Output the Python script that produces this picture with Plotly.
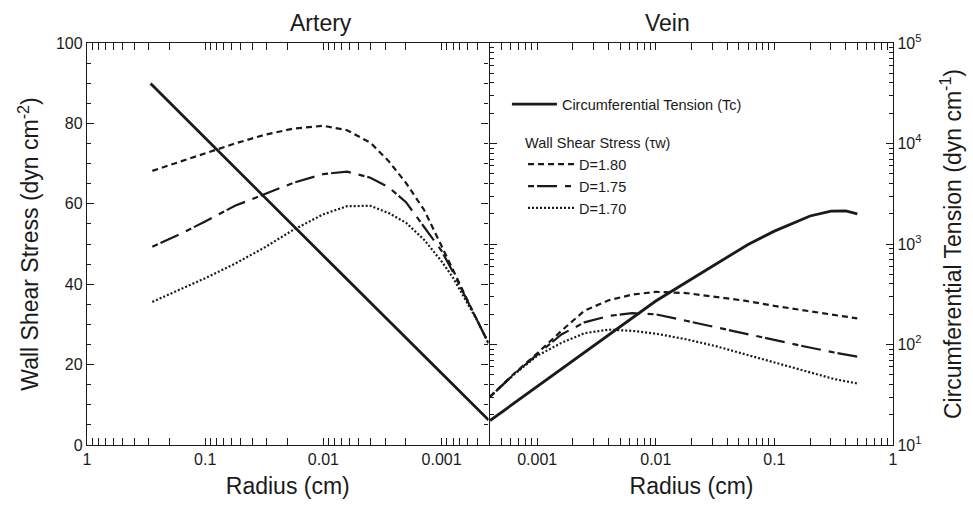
import plotly.graph_objects as go

# ---------------- data ----------------
# Artery: circumferential tension (Tc), dyn/cm
artery_tc_r = [0.29, 0.1, 0.01, 0.001, 0.0004]
artery_tc = [39500, 11300, 764, 51.8, 17.7]

# Artery: wall shear stress (dyn/cm^2)
artery_r = [0.28, 0.16, 0.1, 0.056, 0.032, 0.018, 0.01, 0.0063, 0.004, 0.0028,
            0.002, 0.0014, 0.001, 0.0008, 0.00063, 0.0005, 0.0004]
artery_d180 = [68.2, 70.6, 72.7, 75.0, 77.1, 78.7, 79.4, 78.3, 75.2, 70.6,
               65.2, 58.4, 49.5, 43.4, 37.0, 31.0, 25.3]
artery_d175 = [49.3, 52.6, 55.6, 59.5, 62.3, 65.2, 67.4, 68.0, 66.5, 64.1,
               60.4, 54.3, 48.3, 43.0, 36.8, 31.0, 25.3]
artery_d170 = [35.6, 38.8, 41.5, 45.1, 49.0, 53.5, 57.4, 59.4, 59.5, 57.7,
               55.3, 51.0, 45.7, 41.6, 36.3, 31.0, 25.3]

# Vein: circumferential tension (Tc)
vein_tc_r = [0.0004, 0.001, 0.003, 0.01, 0.03, 0.06, 0.1, 0.2, 0.3, 0.4, 0.5]
vein_tc = [17.5, 38.2, 97, 271, 600, 990, 1343, 1900, 2120, 2130, 1995]

# Vein: wall shear stress
vein_r = [0.0004, 0.00063, 0.001, 0.0016, 0.0025, 0.004, 0.0063, 0.01, 0.018,
          0.032, 0.056, 0.1, 0.18, 0.32, 0.5]
vein_d180 = [12.0, 17.6, 22.8, 28.4, 33.4, 36.0, 37.4, 38.1, 37.8, 36.9, 35.9,
             34.6, 33.5, 32.4, 31.5]
vein_d175 = [12.0, 17.5, 22.5, 27.5, 30.5, 32.1, 32.8, 32.5, 30.9, 29.3, 27.6,
             26.0, 24.5, 23.0, 22.0]
vein_d170 = [12.0, 17.4, 22.2, 25.4, 27.8, 28.7, 28.4, 27.7, 26.3, 24.6, 22.6,
             20.6, 18.4, 16.4, 15.3]

x_tickvals = [1, 0.1, 0.01, 0.001]
x_ticktext = ["1", "0.1", "0.01", "0.001"]
tc_tickvals = [10, 100, 1000, 10000, 100000]
tc_ticktext = ["10<sup>1</sup>", "10<sup>2</sup>", "10<sup>3</sup>", "10<sup>4</sup>", "10<sup>5</sup>"]
wss_tickvals = [0, 20, 40, 60, 80, 100]

# ---------------- styling ----------------
INK = "#1a1a1a"
FONT = "Liberation Sans, Arial, sans-serif"
styles = {
    "D=1.80": dict(dash="6px,4px", width=2.2),
    "D=1.75": dict(dash="6px,3px,20px,8px", width=2.2),
    "D=1.70": dict(dash="2px,2px", width=2.2),
}

minor_log_x = [k * 10.0 ** e for e in range(-4, 0) for k in range(2, 10)]
minor_log_y = [k * 10.0 ** e for e in range(1, 5) for k in range(2, 10)]

fig = go.Figure()

# Artery
fig.add_trace(go.Scatter(x=artery_tc_r, y=artery_tc, xaxis="x", yaxis="y4", mode="lines",
                         line=dict(color=INK, width=2.8), name="Circumferential Tension (Tc)",
                         legend="legend", showlegend=True))
for name, vals in [("D=1.80", artery_d180), ("D=1.75", artery_d175), ("D=1.70", artery_d170)]:
    fig.add_trace(go.Scatter(x=artery_r, y=vals, xaxis="x", yaxis="y", mode="lines",
                             line=dict(color=INK, **styles[name]), name=name,
                             legend="legend2", showlegend=True))
# Vein
fig.add_trace(go.Scatter(x=vein_tc_r, y=vein_tc, xaxis="x2", yaxis="y2", mode="lines",
                         line=dict(color=INK, width=2.8), name="Circumferential Tension (Tc)",
                         showlegend=False))
for name, vals in [("D=1.80", vein_d180), ("D=1.75", vein_d175), ("D=1.70", vein_d170)]:
    fig.add_trace(go.Scatter(x=vein_r, y=vals, xaxis="x2", yaxis="y3", mode="lines",
                             line=dict(color=INK, **styles[name]), name=name,
                             showlegend=False))

LW = 1.4
axis_common = dict(showline=True, linecolor=INK, linewidth=LW, ticks="inside",
                   tickcolor=INK, tickwidth=1, ticklen=7, mirror="allticks",
                   showgrid=False, zeroline=False,
                   tickfont=dict(family=FONT, size=16, color=INK))
# shift the left panel's right edge so both divider lines coincide
split = 0.5 - LW / 806.0

title_font = dict(family=FONT, size=23, color=INK)
legend_font = dict(family=FONT, size=14.5, color=INK)

fig.update_layout(
    width=973, height=507,
    margin=dict(l=87, r=80, t=43, b=62),
    paper_bgcolor="white", plot_bgcolor="white",
    font=dict(family=FONT, color=INK),
    xaxis=dict(domain=[0, split], type="log", range=[0, -3.398], anchor="y",
               tickvals=x_tickvals, ticktext=x_ticktext,
               minor=dict(ticks="inside", ticklen=4, tickvals=minor_log_x, tickcolor=INK),
               title=dict(text="Radius (cm)", font=title_font, standoff=10),
               **axis_common),
    xaxis2=dict(domain=[0.5, 1], type="log", range=[-3.398, 0], anchor="y2",
                tickvals=x_tickvals, ticktext=x_ticktext,
                minor=dict(ticks="inside", ticklen=4, tickvals=minor_log_x, tickcolor=INK),
                title=dict(text="Radius (cm)", font=title_font, standoff=10),
                **axis_common),
    yaxis=dict(anchor="x", range=[0, 100], tickvals=wss_tickvals,
               minor=dict(ticks="inside", ticklen=4, dtick=5, tickcolor=INK),
               title=dict(text="Wall Shear Stress (dyn cm<sup>-2</sup>)",
                          font=title_font, standoff=10),
               **axis_common),
    yaxis2=dict(anchor="x2", side="right", type="log", range=[1, 5],
                tickvals=tc_tickvals, ticktext=tc_ticktext,
                minor=dict(ticks="inside", ticklen=4, tickvals=minor_log_y, tickcolor=INK),
                title=dict(text="Circumferential Tension (dyn cm<sup>-1</sup>)",
                           font=title_font, standoff=24),
                **axis_common),
    yaxis3=dict(anchor="x2", overlaying="y2", range=[0, 100], visible=False),
    yaxis4=dict(anchor="x", overlaying="y", type="log", range=[1, 5], visible=False),
    legend=dict(x=0.521, y=0.848, xanchor="left", yanchor="middle",
                bgcolor="rgba(0,0,0,0)", itemwidth=45, font=legend_font),
    legend2=dict(x=0.541, y=0.785, xanchor="left", yanchor="top",
                 bgcolor="rgba(0,0,0,0)", itemwidth=46, tracegroupgap=0,
                 title=dict(text="Wall Shear Stress (τw)", font=legend_font),
                 font=legend_font),
    annotations=[
        dict(text="Artery", x=split / 2, y=1.0, xref="paper", yref="paper", yanchor="bottom",
             yshift=5, showarrow=False, font=title_font),
        dict(text="Vein", x=0.75, y=1.0, xref="paper", yref="paper", yanchor="bottom",
             yshift=5, showarrow=False, font=title_font),
    ],
)

fig.write_html("out.html")
